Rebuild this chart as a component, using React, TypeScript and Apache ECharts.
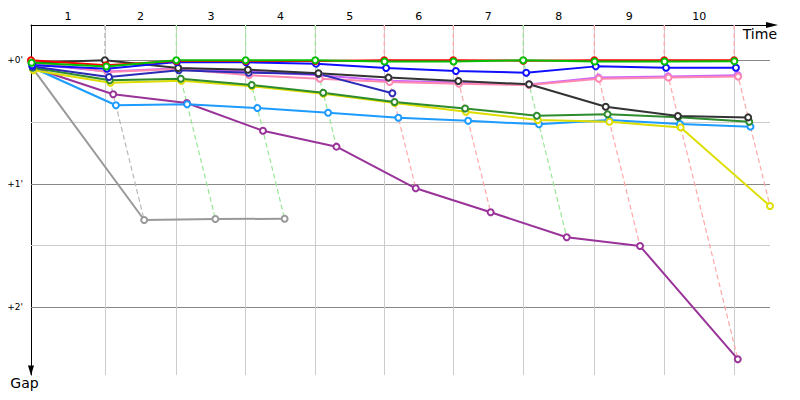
import React, { useEffect, useRef } from "react";
import * as echarts from "echarts";

// Leader's race time (minutes) at the start and at checkpoints 1..10
const cpTimes = [0, 2.43, 4.78, 7.06, 9.35, 11.62, 13.89, 16.19, 18.53, 20.83, 23.13];
const cpLabels = ["1", "2", "3", "4", "5", "6", "7", "8", "9", "10"];

// Gap axis tick lines (minutes)
const gapMajor = [0, 1, 2];
const gapMajorLabels = ["+0'", "+1'", "+2'"];
const gapMinor = [0.5, 1.5];

// Gaps (minutes) at start, cp1..cp10 ; null = no passage
const gapGray = [0.07, 1.293, 1.285, 1.283, null, null, null, null, null, null, null];
const gapPurple = [0.06, 0.275, 0.346, 0.57, 0.699, 1.036, 1.23, 1.433, 1.504, 2.42, null];
const gapLightBlue = [0.06, 0.364, 0.356, 0.386, 0.424, 0.465, 0.49, 0.518, 0.483, 0.516, 0.537];
const gapYellow = [0.08, 0.181, 0.165, 0.21, 0.27, 0.346, 0.416, 0.483, 0.497, 0.543, 1.18];
const gapDarkGreen = [0.06, 0.162, 0.149, 0.2, 0.262, 0.338, 0.39, 0.449, 0.437, 0.46, 0.497];
const gapViolet = [0.03, 0.09, 0.065, 0.09, 0.12, 0.165, 0.18, 0.195, 0.14, 0.13, 0.12];
const gapPink = [0.01, 0.095, 0.07, 0.12, 0.149, 0.176, 0.19, 0.2, 0.149, 0.14, 0.132];
const gapNavy = [0.05, 0.135, 0.081, 0.1, 0.11, 0.267, null, null, null, null, null];
const gapBlack = [0.02, 0, 0.062, 0.076, 0.105, 0.14, 0.168, 0.194, 0.376, 0.451, 0.462];
const gapBlue = [0.04, 0.068, 0.014, 0.016, 0.027, 0.062, 0.087, 0.1, 0.049, 0.06, 0.06];
const gapRed = [0.0, 0.04, 0.006, 0.006, 0.006, 0, 0, 0.003, 0, 0, 0];
const gapGreen = [0.02, 0.05, 0, 0, 0, 0.009, 0.009, 0, 0.009, 0.01, 0.008];

const riderNames = ["gray", "purple", "lightblue", "yellow", "darkgreen", "violet", "pink", "navy", "black", "blue", "red", "green"];
const riderColors = ["#999999", "#993399", "#1e9bff", "#dddd00", "#2e8b2e", "#cc66ff", "#ff88b0", "#2b2bb5", "#333333", "#1010ff", "#ff0000", "#00c000"];
const riderLight = ["#cccccc", "#d8a8d8", "#a0d0ff", "#eeee90", "#a0d0a0", "#e0b0ff", "#ffb8d0", "#a8a8e0", "#b8b8b8", "#a8a8ff", "#ffa8a8", "#98e698"];
const riderGaps = [gapGray, gapPurple, gapLightBlue, gapYellow, gapDarkGreen, gapViolet, gapPink, gapNavy, gapBlack, gapBlue, gapRed, gapGreen];

const Y_MIN = -0.286;
const Y_MAX = 2.548;
const X_MIN = 0;
const X_MAX = 24.31;
const FONT = '"DejaVu Sans", Verdana, sans-serif';

export default function App() {
  const ref = useRef<HTMLDivElement>(null);

  useEffect(() => {
    if (!ref.current) return;
    const chart = echarts.init(ref.current, undefined, { renderer: "svg" });

    const gridSeries: any = {
      type: "line",
      data: [],
      z: 1,
      silent: true,
      clip: false,
      markLine: {
        silent: true,
        z: 1,
        symbol: "none",
        animation: false,
        data: [
          ...gapMajor.map((v, i) => ({
            yAxis: v,
            lineStyle: { color: "#888888", width: 1, type: "solid" },
            label: {
              show: true,
              position: "start",
              distance: 8,
              formatter: gapMajorLabels[i],
              color: "#000",
              fontSize: 9,
              fontFamily: FONT,
            },
          })),
          ...gapMinor.map((v) => ({
            yAxis: v,
            lineStyle: { color: "#cccccc", width: 1, type: "solid" },
            label: { show: false },
          })),
          ...cpTimes.slice(1).map((t) => ({
            xAxis: t,
            lineStyle: { color: "#cccccc", width: 1, type: "solid" },
            label: { show: false },
          })),
          [
            {
              coord: [X_MIN, Y_MAX - 0.1],
              symbol: "none",
              lineStyle: { color: "#000", width: 1, type: "solid" },
              label: { show: false },
            },
            { coord: [X_MIN, Y_MAX - 0.037], symbol: "triangle", symbolSize: [6, 10] },
          ],
        ],
      },
      markArea: {
        silent: true,
        z: 1,
        itemStyle: { color: "rgba(0,0,0,0)" },
        label: {
          show: true,
          position: "top",
          distance: 3,
          color: "#000",
          fontSize: 11,
          fontFamily: FONT,
        },
        data: cpLabels.map((l, i) => [
          { name: l, xAxis: cpTimes[i] },
          { xAxis: cpTimes[i + 1] },
        ]),
      },
    };

    // dashed connector per checkpoint: leader (light colour) -> last rider
    const dashedSeries: any[] = [];
    for (let k = 1; k < cpTimes.length; k++) {
      let lead = -1;
      let minG = Infinity;
      let maxG = -Infinity;
      riderGaps.forEach((g, r) => {
        const v = g[k];
        if (v == null) return;
        if (v < minG) { minG = v; lead = r; }
        if (v > maxG) { maxG = v; }
      });
      if (lead < 0) continue;
      dashedSeries.push({
        type: "line",
        z: 1.5,
        silent: true,
        symbol: "none",
        clip: false,
        lineStyle: { color: riderLight[lead], width: 1.2, type: [5, 3] },
        data: [
          [cpTimes[k], Y_MIN],
          [cpTimes[k], 0],
          [cpTimes[k] + maxG, maxG],
        ],
      });
    }

    const riderSeries = riderNames.map((name, r) => ({
      name,
      type: "line",
      z: 3,
      symbol: "emptyCircle",
      symbolSize: 6,
      showAllSymbol: true,
      clip: false,
      lineStyle: { color: riderColors[r], width: 2 },
      itemStyle: { color: riderColors[r], borderColor: riderColors[r], borderWidth: 1.3 },
      data: riderGaps[r]
        .map((g, i) => (g == null ? null : [cpTimes[i] + g, g]))
        .filter((p) => p != null),
    }));

    chart.setOption({
      animation: false,
      backgroundColor: "#ffffff",
      grid: { left: 31, top: 25, right: 30, bottom: 25, containLabel: false },
      xAxis: {
        type: "value",
        position: "top",
        min: X_MIN,
        max: X_MAX,
        name: "Time",
        nameLocation: "end",
        nameGap: 7,
        nameTextStyle: {
          fontSize: 14,
          fontFamily: FONT,
          color: "#000",
          align: "right",
          verticalAlign: "top",
          padding: [2, 0, 0, 0],
        },
        axisLine: {
          show: true,
          onZero: false,
          symbol: ["none", "triangle"],
          symbolSize: [6, 12],
          symbolOffset: [0, 2],
          lineStyle: { color: "#000", width: 1 },
        },
        axisTick: { show: false },
        axisLabel: { show: false },
        splitLine: { show: false },
      },
      yAxis: {
        type: "value",
        inverse: true,
        min: Y_MIN,
        max: Y_MAX,
        name: "Gap",
        nameLocation: "end",
        nameGap: 1,
        nameTextStyle: {
          fontSize: 14,
          fontFamily: FONT,
          color: "#000",
          padding: [0, 13, 0, 0],
        },
        axisLine: {
          show: true,
          onZero: false,
          lineStyle: { color: "#000", width: 1 },
        },
        axisTick: { show: false },
        axisLabel: { show: false },
        splitLine: { show: false },
      },
      series: [gridSeries, ...dashedSeries, ...riderSeries],
    });

    return () => chart.dispose();
  }, []);

  return (
    <div
      ref={ref}
      style={{ position: "absolute", left: 0, top: 0, width: 800, height: 400, background: "#fff" }}
    />
  );
}
